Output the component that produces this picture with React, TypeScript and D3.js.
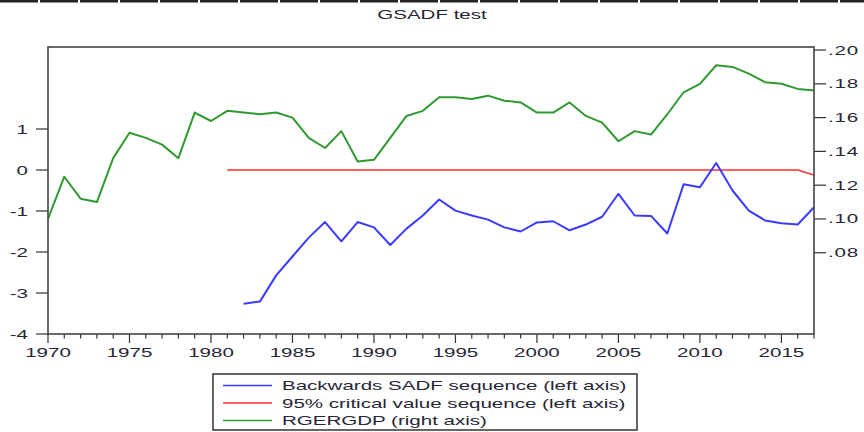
import React from "react";
import * as d3 from "d3";

const TITLE = "GSADF test";
const years = [
  1970, 1971, 1972, 1973, 1974, 1975, 1976, 1977, 1978, 1979,
  1980, 1981, 1982, 1983, 1984, 1985, 1986, 1987, 1988, 1989,
  1990, 1991, 1992, 1993, 1994, 1995, 1996, 1997, 1998, 1999,
  2000, 2001, 2002, 2003, 2004, 2005, 2006, 2007, 2008, 2009,
  2010, 2011, 2012, 2013, 2014, 2015, 2016, 2017,
];
// Backwards SADF sequence (left axis), starts 1982
const bsadf: (number | null)[] = [
  null, null, null, null, null, null, null, null, null, null,
  null, null, -3.26, -3.21, -2.57, -2.11, -1.65, -1.27, -1.74, -1.27,
  -1.4, -1.83, -1.43, -1.11, -0.72, -0.99, -1.11, -1.21, -1.4, -1.5,
  -1.28, -1.25, -1.47, -1.33, -1.14, -0.58, -1.11, -1.12, -1.55, -0.35,
  -0.42, 0.17, -0.5, -0.99, -1.23, -1.3, -1.33, -0.91,
];
// 95% critical value sequence (left axis), starts 1981
const cv95: (number | null)[] = [
  null, null, null, null, null, null, null, null, null, null,
  null, 0, 0, 0, 0, 0, 0, 0, 0, 0,
  0, 0, 0, 0, 0, 0, 0, 0, 0, 0,
  0, 0, 0, 0, 0, 0, 0, 0, 0, 0,
  0, 0, 0, 0, 0, 0, 0, -0.12,
];
// RGERGDP (right axis)
const rgergdp: number[] = [
  0.1, 0.125, 0.112, 0.11, 0.136, 0.151, 0.148, 0.144, 0.136, 0.163,
  0.158, 0.164, 0.163, 0.162, 0.163, 0.16, 0.148, 0.142, 0.152, 0.134,
  0.135, 0.148, 0.161, 0.164, 0.172, 0.172, 0.171, 0.173, 0.17, 0.169,
  0.163, 0.163, 0.169, 0.161, 0.157, 0.146, 0.152, 0.15, 0.162, 0.175,
  0.18, 0.191, 0.19, 0.186, 0.181, 0.18, 0.177, 0.176,
];
const leftTicks = [1, 0, -1, -2, -3, -4];
const rightTicks = [0.2, 0.18, 0.16, 0.14, 0.12, 0.1, 0.08];
const xLabelYears = [1970, 1975, 1980, 1985, 1990, 1995, 2000, 2005, 2010, 2015];
const legendItems = [
  { label: "Backwards SADF sequence (left axis)", color: "#3b3bff" },
  { label: "95% critical value sequence (left axis)", color: "#ff3030" },
  { label: "RGERGDP (right axis)", color: "#2f9a2f" },
];

const W = 864;
const H = 432;
const L = 48, R = 814, T = 47, B = 334;
const FONT = "'Liberation Sans', Arial, sans-serif";
const SX = 1.58; // horizontal stretch of all text in the reference

function SText(props: {
  x: number;
  y: number;
  anchor?: "start" | "middle" | "end";
  children: React.ReactNode;
  size?: number;
  weight?: string;
  spacing?: number;
}) {
  return (
    <text
      transform={`translate(${props.x},${props.y}) scale(${SX},1)`}
      textAnchor={props.anchor || "start"}
      fontFamily={FONT}
      fontSize={props.size || 13}
      fontWeight={props.weight || "normal"}
      letterSpacing={props.spacing || 0}
      fill="#262636"
    >
      {props.children}
    </text>
  );
}

export default function App() {
  const x = d3.scaleLinear().domain([1970, 2017]).range([L, R]);
  const yL = d3.scaleLinear().domain([-4, 3]).range([B, T]);
  const yR = d3.scaleLinear().domain([0.0319, 0.2018]).range([B, T]);

  const lineL = d3
    .line<[number, number | null]>()
    .defined((d) => d[1] !== null)
    .x((d) => x(d[0]))
    .y((d) => yL(d[1] as number));
  const lineR = d3
    .line<[number, number]>()
    .x((d) => x(d[0]))
    .y((d) => yR(d[1]));

  const bPath = lineL(years.map((y, i) => [y, bsadf[i]]));
  const cPath = lineL(years.map((y, i) => [y, cv95[i]]));
  const gPath = lineR(years.map((y, i) => [y, rgergdp[i]]));

  return (
    <div style={{ position: "fixed", left: 0, top: 0 }}>
      <svg width={W} height={H} style={{ display: "block", background: "#fff" }}>
        <line x1={0} x2={W} y1={1} y2={1} stroke="#222" strokeWidth={3} strokeDasharray="38 2" />
        <SText x={432} y={18.5} anchor="middle">
          {TITLE}
        </SText>

        {/* x ticks */}
        {years.map((yr) => (
          <line
            key={"xt" + yr}
            x1={x(yr)}
            x2={x(yr)}
            y1={B}
            y2={B + (yr % 5 === 0 ? 9 : 4.5)}
            stroke="#333"
            strokeWidth={1.2}
          />
        ))}
        {xLabelYears.map((yr) => (
          <SText key={"xl" + yr} x={x(yr)} y={357} anchor="middle">
            {yr}
          </SText>
        ))}

        {/* left ticks */}
        {leftTicks.map((v) => (
          <g key={"lt" + v}>
            <line x1={36} x2={L} y1={yL(v)} y2={yL(v)} stroke="#333" strokeWidth={1.2} />
            <SText x={28} y={yL(v) + 4.5} anchor="end">
              {v}
            </SText>
          </g>
        ))}

        {/* right ticks */}
        {rightTicks.map((v) => (
          <g key={"rt" + v}>
            <line x1={R} x2={826} y1={yR(v)} y2={yR(v)} stroke="#333" strokeWidth={1.2} />
            <SText x={828} y={yR(v) + 4.5} anchor="start" spacing={0.5}>
              {d3.format(".2f")(v).replace(/^0/, "")}
            </SText>
          </g>
        ))}

        {/* series */}
        <path d={gPath || ""} fill="none" stroke={legendItems[2].color} strokeWidth={2} strokeLinejoin="round" />
        <path d={cPath || ""} fill="none" stroke={legendItems[1].color} strokeWidth={1.6} strokeLinejoin="round" />
        <path d={bPath || ""} fill="none" stroke={legendItems[0].color} strokeWidth={2} strokeLinejoin="round" />

        {/* frame */}
        <rect x={L} y={T} width={R - L} height={B - T} fill="none" stroke="#444" strokeWidth={1.6} />

        {/* legend */}
        <rect x={213} y={374} width={424} height={56} fill="#fff" stroke="#333" strokeWidth={1.5} />
        {legendItems.map((it, i) => (
          <g key={"lg" + i}>
            <line x1={223} x2={272} y1={385.5 + i * 17.5} y2={385.5 + i * 17.5} stroke={it.color} strokeWidth={1.6} />
            <SText x={282} y={390 + i * 17.5}>
              {it.label}
            </SText>
          </g>
        ))}
      </svg>
    </div>
  );
}
